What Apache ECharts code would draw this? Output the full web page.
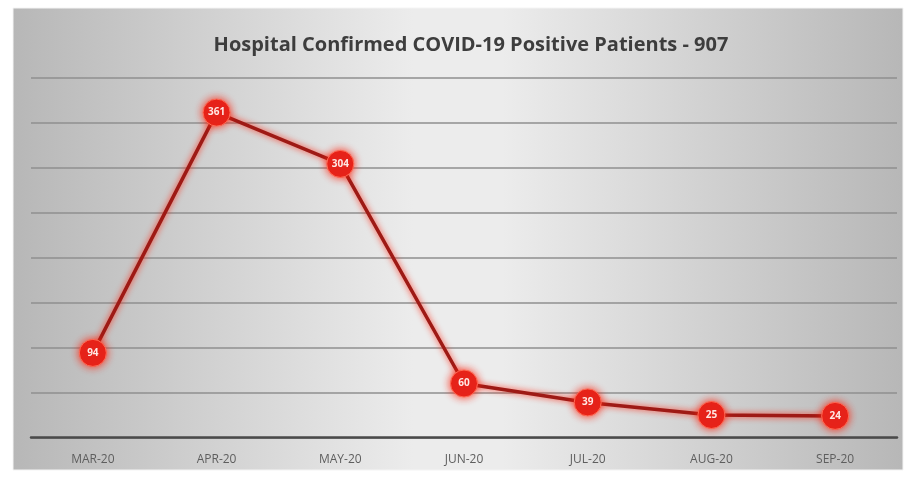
<!DOCTYPE html>
<html><head><meta charset="utf-8">
<script src="https://cdn.jsdelivr.net/npm/echarts@6/dist/echarts.min.js"></script>
<style>html,body{margin:0;padding:0;background:#fff}#c{width:911px;height:483px}</style>
</head><body><div id="c"></div>
<script>
const titleText = 'Hospital Confirmed COVID-19 Positive Patients - 907';
const categories = ['MAR-20','APR-20','MAY-20','JUN-20','JUL-20','AUG-20','SEP-20'];
const patients = [94, 361, 304, 60, 39, 25, 24];
const yMin = 0, yMax = 400, yStep = 50;

const chart = echarts.init(document.getElementById('c'), null, {renderer:'canvas'});
chart.setOption({
  animation: false,
  graphic: [{
    type: 'rect', z: -10, silent: true,
    shape: {x: 13, y: 8, width: 890, height: 462},
    style: {
      fill: {type:'linear', x:0, y:0, x2:1, y2:0, colorStops:[
        {offset:0, color:'#b7b7b7'},
        {offset:0.45, color:'#ececec'},
        {offset:0.55, color:'#ececec'},
        {offset:1, color:'#b7b7b7'}
      ]},
      stroke: '#f4f4f4', lineWidth: 1
    }
  }],
  title: {
    text: titleText, left: 466, textAlign: 'center', top: 30,
    textStyle: {fontFamily:'Open Sans', fontWeight:'bold', fontSize:20, color:'#3d3d3d'}
  },
  grid: {left: 31, right: 14, top: 77.5, bottom: 45.5, containLabel: false},
  xAxis: {
    type: 'category', data: categories, boundaryGap: true,
    axisLine: {lineStyle:{color:'#4a4a4a', width:2.5}},
    axisTick: {show:false},
    axisLabel: {color:'#5e5e5e', fontSize:12, fontFamily:'Open Sans', margin:16}
  },
  yAxis: {
    type: 'value', min: yMin, max: yMax, interval: yStep,
    axisLabel: {show:false}, axisLine:{show:false}, axisTick:{show:false},
    splitLine: {lineStyle:{color:'#8f8f8f', width:1.5}}
  },
  series: [{
    type: 'line', data: patients,
    lineStyle: {color:'#9e1a15', width:3.5, shadowColor:'rgba(255,40,20,0.9)', shadowBlur:6},
    symbol: 'circle', symbolSize: 27,
    itemStyle: {color:'#e5231b', borderColor:'#ff6a55', borderWidth:1, shadowColor:'rgba(255,30,10,0.9)', shadowBlur:8},
    label: {show:true, position:'inside', color:'#ffe8e4', fontSize:10, fontFamily:'Open Sans', fontWeight:'bold'}
  }]
});
</script></body></html>
